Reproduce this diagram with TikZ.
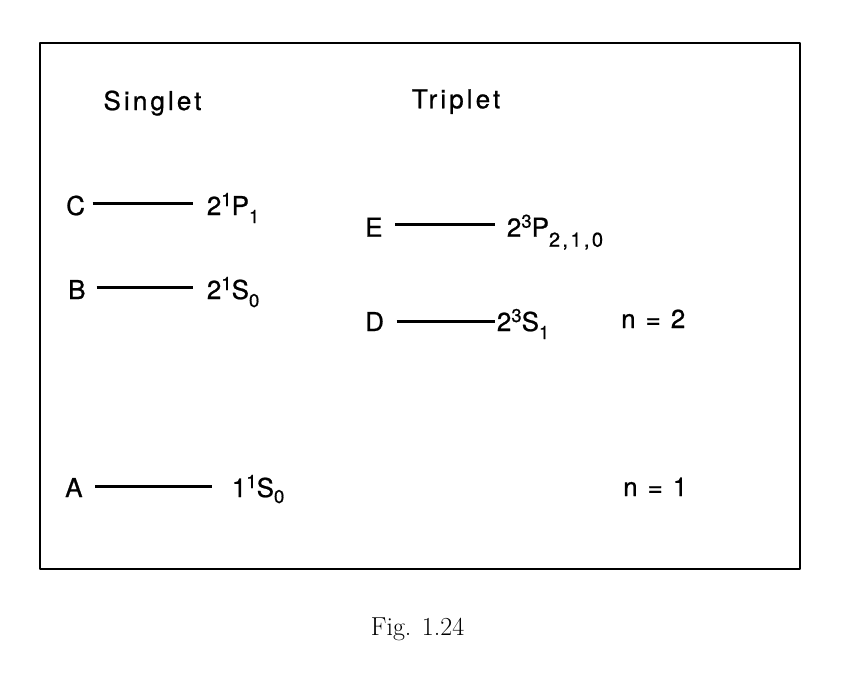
\documentclass[tikz,border=0pt]{standalone}
\usepackage{fontspec}
\newfontfamily\labfont[LetterSpace=12,FakeBold=0.8]{TeX Gyre Heros}
\newfontfamily\stfont[FakeBold=0.8]{TeX Gyre Heros}
\newcommand{\Up}[1]{\raisebox{9pt}{\fontsize{18.5}{20}\selectfont #1}}
\newcommand{\Dn}[2][8pt]{\raisebox{-#1}{\fontsize{18.5}{20}\selectfont #2}}
\begin{document}
\begin{tikzpicture}[x=1pt,y=-1pt,
  txt/.style={anchor=base west, inner sep=0pt, font=\stfont\fontsize{26}{30}\selectfont},
  word/.style={anchor=base west, inner sep=0pt, font=\labfont\fontsize{26}{30}\selectfont},
  nlab/.style={txt, execute at begin node={\spaceskip=10pt}},
  level/.style={line width=3.2pt},
  frame/.style={line width=2.8pt, line join=round},
  capt/.style={anchor=base west, inner sep=0pt, font=\fontsize{26}{30}\selectfont}]
\useasboundingbox (0,0) rectangle (866,675);
\draw[frame] (40,43) rectangle (800,569);
% headings
\node[word] (sing) at (103.3,110) {Singlet};
\node[word] (trip) at (411.7,108.3) {Triplet};
% singlet levels
\node[txt] (lC) at (66,215) {C};
\coordinate (C1) at (92.7,203.3);
\coordinate (C2) at (192.7,203.3);
\draw[level] (C1) -- (C2);
\node[txt] (sC) at (206.7,215) {2\Up{1}P\Dn{1}};
\node[txt] (lB) at (68,299) {B};
\coordinate (B1) at (96.7,287.7);
\coordinate (B2) at (192.7,287.7);
\draw[level] (B1) -- (B2);
\node[txt] (sB) at (206.7,299) {2\Up{1}S\Dn{0}};
\node[txt] (lA) at (65,497) {A};
\coordinate (A1) at (95,486.7);
\coordinate (A2) at (211.7,486.7);
\draw[level] (A1) -- (A2);
\node[txt] (sA) at (231.7,497) {1\Up{1}S\Dn[6pt]{0}};
% triplet levels
\node[txt] (lE) at (365,236.7) {E};
\coordinate (E1) at (395,224.5);
\coordinate (E2) at (495,224.5);
\draw[level] (E1) -- (E2);
\node[txt] (sE) at (506.7,236.7) {2\Up{3}P\Dn[10pt]{\labfont\fontsize{20}{22}\selectfont 2,1,0}};
\node[txt] (lD) at (365,331) {D};
\coordinate (D1) at (396.7,321.7);
\coordinate (D2) at (495,321.7);
\draw[level] (D1) -- (D2);
\node[txt] (sD) at (496.7,331) {2\Up{3}S\Dn{1}};
% principal quantum numbers
\node[nlab] (n2) at (621,328) {n = 2};
\node[nlab] (n1) at (623,496) {n = 1};
% caption
\node[capt] (cap) at (370.7,635.7) {Fig. 1.24};
\end{tikzpicture}
\end{document}
